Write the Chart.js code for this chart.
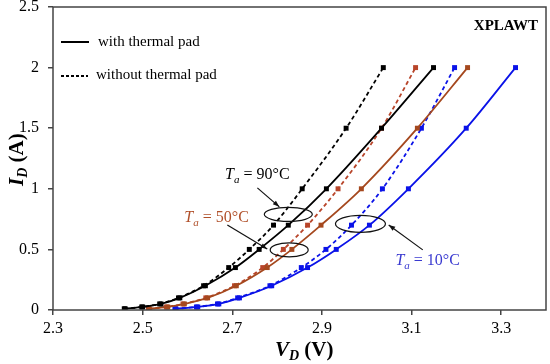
<!DOCTYPE html>
<html>
<head>
<meta charset="utf-8">
<script src="https://cdn.jsdelivr.net/npm/chart.js@4/dist/chart.umd.min.js"></script>
<style>
html, body { margin: 0; padding: 0; background: #fff; }
</style>
</head>
<body>
<canvas id="chart_iv" width="550" height="364"></canvas>
<script>
// measured currents (A), same for every curve
var current = [0.01, 0.025, 0.05, 0.1, 0.2, 0.35, 0.5, 0.7, 1.0, 1.5, 2.0];

// forward voltage (V)
var v90_pad   = [2.461, 2.500, 2.541, 2.583, 2.640, 2.707, 2.760, 2.825, 2.910, 3.033, 3.149];
var v90_nopad = [2.459, 2.498, 2.538, 2.580, 2.636, 2.692, 2.738, 2.792, 2.856, 2.954, 3.037];
var v50_pad   = [2.515, 2.556, 2.593, 2.645, 2.709, 2.778, 2.833, 2.898, 2.988, 3.113, 3.225];
var v50_nopad = [2.513, 2.553, 2.590, 2.641, 2.705, 2.768, 2.814, 2.868, 2.936, 3.033, 3.109];
var v10_pad   = [2.574, 2.623, 2.670, 2.716, 2.788, 2.868, 2.932, 3.006, 3.093, 3.222, 3.332];
var v10_nopad = [2.572, 2.620, 2.667, 2.712, 2.784, 2.854, 2.909, 2.966, 3.035, 3.122, 3.196];

// axis ticks
var xTicks = [2.3, 2.5, 2.7, 2.9, 3.1, 3.3];
var yTicks = [0, 0.5, 1, 1.5, 2, 2.5];

// temperature labels, ellipses and arrows (data coordinates)
var tempLabels = ['90°C', '50°C', '10°C'];
var labelAt   = [[2.684, 1.13], [2.593, 0.777], [3.064, 0.42]];
var ellipseAt = [[2.825, 0.789], [2.827, 0.496], [2.986, 0.711]];
var arrowFrom = [[2.756, 1.008], [2.689, 0.702], [3.125, 0.496]];
var arrowTo   = [[2.805, 0.851], [2.778, 0.504], [3.049, 0.702]];

var BLACK = '#000000';
var BROWN = '#a5481e';
var BROWN_D = '#b8452a';
var BLUE = '#0a12e8';
var labelColors = ['#000000', '#b0502a', '#3a3ad0'];
var SERIF = '"Liberation Serif", "Times New Roman", serif';

function pts(v) {
    var out = [];
    for (var i = 0; i < v.length; i++) out.push({x: v[i], y: current[i]});
    return out;
}

function series(v, color, dashed) {
    return {
        data: pts(v),
        showLine: true,
        borderColor: color,
        backgroundColor: color,
        borderWidth: 1.8,
        borderDash: dashed ? [4, 3] : [],
        pointStyle: 'rect',
        pointRadius: 3.5,
        pointBorderWidth: 0,
        cubicInterpolationMode: 'monotone',
        tension: 0.4
    };
}

function drawArrow(ctx, x1, y1, x2, y2) {
    ctx.beginPath();
    ctx.moveTo(x1, y1);
    ctx.lineTo(x2, y2);
    ctx.stroke();
    var a = Math.atan2(y2 - y1, x2 - x1);
    ctx.beginPath();
    ctx.moveTo(x2, y2);
    ctx.lineTo(x2 - 7 * Math.cos(a - 0.35), y2 - 7 * Math.sin(a - 0.35));
    ctx.lineTo(x2 - 7 * Math.cos(a + 0.35), y2 - 7 * Math.sin(a + 0.35));
    ctx.closePath();
    ctx.fill();
}

// T_a = xx°C with subscript
function drawTa(ctx, x, y, txt, color) {
    ctx.fillStyle = color;
    ctx.textBaseline = 'alphabetic';
    ctx.textAlign = 'left';
    ctx.font = 'italic 16px ' + SERIF;
    ctx.fillText('T', x, y);
    x += ctx.measureText('T').width;
    ctx.font = 'italic 11px ' + SERIF;
    ctx.fillText('a', x, y + 4);
    x += ctx.measureText('a').width;
    ctx.font = '16px ' + SERIF;
    ctx.fillText(' = ' + txt, x, y);
}

var extras = {
    id: 'extras',
    afterDraw: function (chart) {
        var ctx = chart.ctx;
        var xs = chart.scales.x, ys = chart.scales.y;
        var area = chart.chartArea;
        ctx.save();

        // frame
        ctx.strokeStyle = '#444';
        ctx.lineWidth = 1.5;
        ctx.strokeRect(area.left, area.top, area.right - area.left, area.bottom - area.top);

        // ellipses, arrows, labels
        ctx.strokeStyle = '#111';
        ctx.fillStyle = '#111';
        ctx.lineWidth = 1.2;
        var rx = [24, 19, 25], ry = [7, 7, 8.5];
        for (var i = 0; i < tempLabels.length; i++) {
            ctx.beginPath();
            ctx.ellipse(xs.getPixelForValue(ellipseAt[i][0]), ys.getPixelForValue(ellipseAt[i][1]),
                rx[i], ry[i], 0, 0, Math.PI * 2);
            ctx.stroke();
            ctx.fillStyle = '#111';
            drawArrow(ctx, xs.getPixelForValue(arrowFrom[i][0]), ys.getPixelForValue(arrowFrom[i][1]),
                xs.getPixelForValue(arrowTo[i][0]), ys.getPixelForValue(arrowTo[i][1]));
            drawTa(ctx, xs.getPixelForValue(labelAt[i][0]), ys.getPixelForValue(labelAt[i][1]) + 6,
                tempLabels[i], labelColors[i]);
        }

        // legend
        ctx.strokeStyle = BLACK;
        ctx.lineWidth = 2;
        ctx.beginPath();
        ctx.moveTo(61, 42); ctx.lineTo(89, 42);
        ctx.stroke();
        ctx.setLineDash([3, 2]);
        ctx.beginPath();
        ctx.moveTo(61, 76); ctx.lineTo(88, 76);
        ctx.stroke();
        ctx.setLineDash([]);
        ctx.fillStyle = BLACK;
        ctx.font = '15px ' + SERIF;
        ctx.textBaseline = 'middle';
        ctx.textAlign = 'left';
        ctx.fillText('with thermal pad', 98, 42);
        ctx.fillText('without thermal pad', 96, 75);

        ctx.font = 'bold 15px ' + SERIF;
        ctx.textAlign = 'right';
        ctx.fillText('XPLAWT', 538, 26);

        // axis titles
        ctx.textAlign = 'left';
        ctx.textBaseline = 'alphabetic';
        var x0 = 275, y0 = 356;
        ctx.font = 'bold italic 21px ' + SERIF;
        ctx.fillText('V', x0, y0);
        x0 += ctx.measureText('V').width;
        ctx.font = 'bold italic 14px ' + SERIF;
        ctx.fillText('D', x0, y0 + 4);
        x0 += ctx.measureText('D').width;
        ctx.font = 'bold 21px ' + SERIF;
        ctx.fillText(' (V)', x0, y0);

        ctx.translate(23, 186);
        ctx.rotate(-Math.PI / 2);
        x0 = 0; y0 = 0;
        ctx.font = 'bold italic 21px ' + SERIF;
        ctx.fillText('I', x0, y0);
        x0 += ctx.measureText('I').width;
        ctx.font = 'bold italic 14px ' + SERIF;
        ctx.fillText('D', x0, y0 + 4);
        x0 += ctx.measureText('D').width;
        ctx.font = 'bold 21px ' + SERIF;
        ctx.fillText(' (A)', x0, y0);
        ctx.restore();
    }
};

var ctx = document.getElementById('chart_iv').getContext('2d');
var chart = new Chart(ctx, {
    type: 'scatter',
    data: {
        datasets: [
            series(v90_pad, BLACK, false),
            series(v90_nopad, BLACK, true),
            series(v50_pad, BROWN, false),
            series(v50_nopad, BROWN_D, true),
            series(v10_pad, BLUE, false),
            series(v10_nopad, BLUE, true)
        ]
    },
    options: {
        responsive: false,
        animation: false,
        layout: { padding: { top: 7, right: 3, left: 0, bottom: 0 } },
        plugins: { legend: { display: false }, tooltip: { enabled: false } },
        scales: {
            x: {
                type: 'linear', min: 2.3, max: 3.4,
                afterBuildTicks: function (s) { s.ticks = xTicks.map(function (v) { return {value: v}; }); },
                afterFit: function (s) { s.height = 54; s.paddingLeft = 0; s.paddingRight = 0; },
                border: { display: false },
                grid: { drawOnChartArea: false, drawTicks: true, tickLength: 5, color: '#444', lineWidth: 1.5 },
                ticks: { color: '#000', padding: 4, font: { family: SERIF, size: 16 },
                    callback: function (v) { return v.toFixed(1); } }
            },
            y: {
                type: 'linear', min: 0, max: 2.5,
                afterBuildTicks: function (s) { s.ticks = yTicks.map(function (v) { return {value: v}; }); },
                afterFit: function (s) { s.width = 53; s.paddingTop = 0; s.paddingBottom = 0; },
                border: { display: false },
                grid: { drawOnChartArea: false, drawTicks: true, tickLength: 5, color: '#444', lineWidth: 1.5 },
                ticks: { color: '#000', padding: 9, font: { family: SERIF, size: 16 },
                    callback: function (v) { return String(v); } }
            }
        }
    },
    plugins: [extras]
});
</script>
</body>
</html>
